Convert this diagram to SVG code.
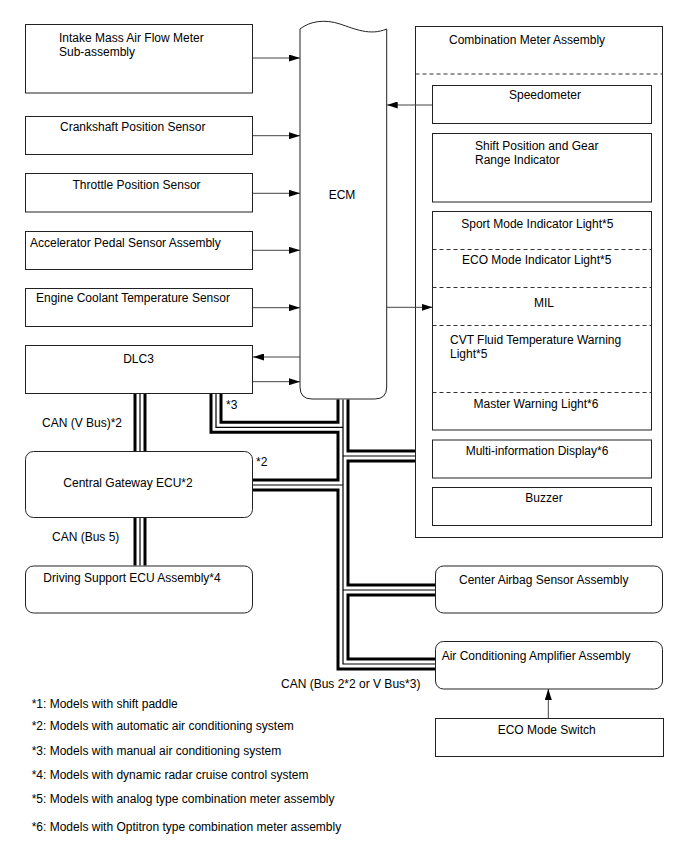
<svg xmlns="http://www.w3.org/2000/svg" width="688" height="852" viewBox="0 0 688 852">
<defs>
<style>
.box{fill:#fff;stroke:#222;stroke-width:1}
.t{font-family:"Liberation Sans",Arial,sans-serif;font-size:12px;fill:#000}
.m{text-anchor:middle}
.dash{fill:none;stroke:#333;stroke-width:1;stroke-dasharray:4 3}
.arr{fill:none;stroke:#444;stroke-width:1;marker-end:url(#ah)}
.bo{fill:none;stroke:#000;stroke-width:13;stroke-linejoin:miter;stroke-linecap:butt}
.bw{fill:none;stroke:#fff;stroke-width:7;stroke-linejoin:miter;stroke-linecap:butt}
.bc{fill:none;stroke:#000;stroke-width:1.2;stroke-linejoin:miter;stroke-linecap:butt}
</style>
<marker id="ah" markerWidth="11" markerHeight="7" refX="11" refY="3.5" orient="auto" markerUnits="userSpaceOnUse">
<path d="M0,0 L11,3.5 L0,7 z" fill="#000"/>
</marker>
</defs>
<rect width="688" height="852" fill="#fff"/>

<g id="maf">
<rect class="box" x="25.5" y="24.5" width="227" height="68.5"/>
<text class="t" x="59" y="42.3">Intake Mass Air Flow Meter</text>
<text class="t" x="59" y="56.3">Sub-assembly</text>
</g>
<g id="ckp">
<rect class="box" x="25.5" y="116.5" width="227" height="38"/>
<text class="t" x="60" y="130.7">Crankshaft Position Sensor</text>
</g>
<g id="tps">
<rect class="box" x="25.5" y="173.5" width="227" height="38.5"/>
<text class="t" x="72.5" y="188.5">Throttle Position Sensor</text>
</g>
<g id="apps">
<rect class="box" x="25.5" y="231.5" width="227" height="38"/>
<text class="t" x="30" y="247">Accelerator Pedal Sensor Assembly</text>
</g>
<g id="ect">
<rect class="box" x="25.5" y="288.5" width="227" height="38"/>
<text class="t" x="36" y="301.7">Engine Coolant Temperature Sensor</text>
</g>
<g id="dlc3">
<rect class="box" x="25.5" y="345.5" width="227" height="48"/>
<text class="t m" x="138.5" y="363">DLC3</text>
</g>
<g id="ecm">
<path class="box" d="M300,29 C310,21 325,19 340,24 S370,36 386.7,29 V387 Q386.7,399 374.7,399 H312 Q300,399 300,387 Z"/>
<text class="t m" x="342" y="199">ECM</text>
</g>
<g id="gateway">
<rect class="box" x="25.5" y="451.5" width="227" height="66" rx="8"/>
<text class="t m" x="128" y="486.6">Central Gateway ECU*2</text>
</g>
<g id="dsecu">
<rect class="box" x="25.5" y="566" width="227" height="47" rx="8"/>
<text class="t" x="43.3" y="582.3">Driving Support ECU Assembly*4</text>
</g>
<g id="combo">
<rect class="box" x="415.5" y="26.5" width="247" height="511"/>
<text class="t" x="449" y="44.3">Combination Meter Assembly</text>
<line class="dash" x1="415.5" y1="74" x2="662.5" y2="74"/>
</g>
<g id="speedo">
<rect class="box" x="432.5" y="85.5" width="219" height="38"/>
<text class="t m" x="545" y="99.3">Speedometer</text>
</g>
<g id="shift">
<rect class="box" x="432.5" y="133.5" width="219" height="68.5"/>
<text class="t" x="475" y="150.3">Shift Position and Gear</text>
<text class="t" x="475" y="164.3">Range Indicator</text>
</g>
<g id="indicators">
<rect class="box" x="432.5" y="211.5" width="219" height="218.5"/>
<line class="dash" x1="432.5" y1="249.5" x2="651.5" y2="249.5"/>
<line class="dash" x1="432.5" y1="287.5" x2="651.5" y2="287.5"/>
<line class="dash" x1="432.5" y1="325.5" x2="651.5" y2="325.5"/>
<line class="dash" x1="432.5" y1="392.5" x2="651.5" y2="392.5"/>
<text class="t m" x="537.3" y="227.6">Sport Mode Indicator Light*5</text>
<text class="t m" x="536.7" y="263.6">ECO Mode Indicator Light*5</text>
<text class="t m" x="544" y="306.6">MIL</text>
<text class="t" x="450" y="344.3">CVT Fluid Temperature Warning</text>
<text class="t" x="450" y="358.3">Light*5</text>
<text class="t m" x="536" y="408">Master Warning Light*6</text>
</g>
<g id="mid">
<rect class="box" x="432.5" y="440" width="219" height="38"/>
<text class="t m" x="537" y="455">Multi-information Display*6</text>
</g>
<g id="buzzer">
<rect class="box" x="432.5" y="487.5" width="219" height="38"/>
<text class="t m" x="544" y="502">Buzzer</text>
</g>
<g id="airbag">
<rect class="box" x="435.5" y="566" width="227" height="47" rx="8"/>
<text class="t" x="459" y="583.6">Center Airbag Sensor Assembly</text>
</g>
<g id="acamp">
<rect class="box" x="435.5" y="641.5" width="227" height="47.5" rx="8"/>
<text class="t" x="441.7" y="660">Air Conditioning Amplifier Assembly</text>
</g>
<g id="ecosw">
<rect class="box" x="435.5" y="718.5" width="228" height="38"/>
<text class="t m" x="546.7" y="734.3">ECO Mode Switch</text>
</g>

<g id="connectors">
<g id="buses">
<g class="bo">
<path d="M140,394 V451"/>
<path d="M140,518 V565.5"/>
<path d="M216,394 V427.3 H343"/>
<path d="M343,399.5 V664 H435"/>
<path d="M343,456 H415"/>
<path d="M253,485 H343"/>
<path d="M343,590 H435"/>
</g>
<g class="bw">
<path d="M140,394 V451"/>
<path d="M140,518 V565.5"/>
<path d="M216,394 V427.3 H343"/>
<path d="M343,399.5 V664 H435"/>
<path d="M343,456 H415"/>
<path d="M253,485 H343"/>
<path d="M343,590 H435"/>
</g>
<g class="bc">
<path d="M140,394 V451"/>
<path d="M140,518 V565.5"/>
<path d="M216,394 V427.3 H343"/>
<path d="M343,399.5 V664 H435"/>
<path d="M343,456 H415"/>
<path d="M253,485 H343"/>
<path d="M343,590 H435"/>
</g>
</g>
<path class="arr" d="M253,58 H300"/>
<path class="arr" d="M253,135.7 H300"/>
<path class="arr" d="M253,193.3 H300"/>
<path class="arr" d="M253,250.3 H300"/>
<path class="arr" d="M253,307.7 H300"/>
<path class="arr" d="M300,357 H253"/>
<path class="arr" d="M253,381.7 H300"/>
<path class="arr" d="M432,105 H386.7"/>
<path class="arr" d="M386.7,307.3 H432.5"/>
<path class="arr" d="M548.3,718 V689"/>
</g>

<g id="labels">
<text class="t" x="42" y="427">CAN (V Bus)*2</text>
<text class="t" x="226" y="409">*3</text>
<text class="t" x="256" y="466">*2</text>
<text class="t" x="52" y="540.7">CAN (Bus 5)</text>
<text class="t" x="281" y="687.6">CAN (Bus 2*2 or V Bus*3)</text>
</g>
<g id="notes">
<text class="t" x="31.7" y="707.6">*1: Models with shift paddle</text>
<text class="t" x="31.7" y="730">*2: Models with automatic air conditioning system</text>
<text class="t" x="31.7" y="755.3">*3: Models with manual air conditioning system</text>
<text class="t" x="31.7" y="779.3">*4: Models with dynamic radar cruise control system</text>
<text class="t" x="31.7" y="802.6">*5: Models with analog type combination meter assembly</text>
<text class="t" x="31.7" y="831">*6: Models with Optitron type combination meter assembly</text>
</g>
</svg>
